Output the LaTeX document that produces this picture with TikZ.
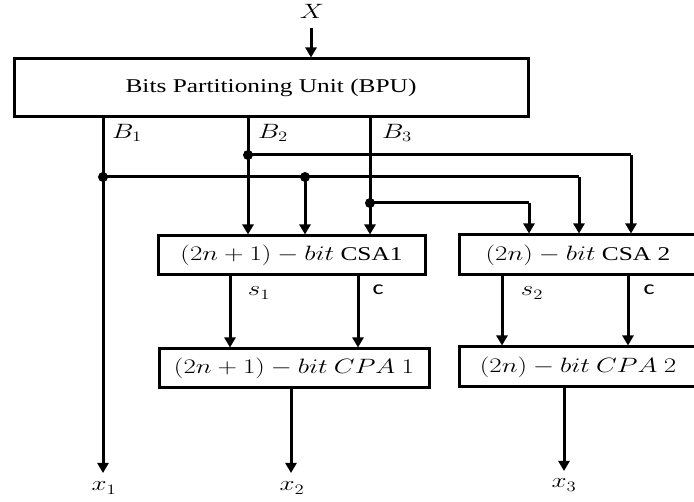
\documentclass[tikz,border=0pt]{standalone}
\usepackage{fontspec}
\setmainfont{Liberation Serif}
\newfontfamily\calib{Carlito}
\usetikzlibrary{arrows.meta}
\newcommand\hs[1]{\scalebox{1.3}[1]{#1}}
\begin{document}
\begin{tikzpicture}[x=1pt,y=-1pt,
  wire/.style={line width=3pt},
  arr/.style={wire,-{Triangle[width=11pt,length=10pt]}},
  box/.style={draw,line width=3pt,inner sep=0pt,font=\fontsize{19.5}{23}\selectfont},
  lab/.style={inner sep=0pt,font=\fontsize{20}{24}\selectfont},
  dot/.style={circle,fill,inner sep=0pt,minimum size=9pt}]
\useasboundingbox (0,0) rectangle (694,502);
\clip (0,0) rectangle (694,502);
% boxes
\node[box,minimum width=514pt,minimum height=58pt] (bpu) at (271,88) {\hs{Bits Partitioning Unit (BPU)}};
\node[box,minimum width=267pt,minimum height=39pt] (csa1) at (291.5,255.5) {\hs{$(2n+1)-bit$ CSA1}};
\node[box,minimum width=238pt,minimum height=40pt] (csa2) at (578,255) {\hs{$(2n)-bit$ CSA 2}};
\node[box,minimum width=270pt,minimum height=39pt] (cpa1) at (294,368.5) {\hs{$(2n+1)-bit\ CPA\ 1$}};
\node[box,minimum width=238pt,minimum height=40pt] (cpa2) at (578,367) {\hs{$(2n)-bit\ CPA\ 2$}};
% labels
\node[lab] (X) at (312,11) {\hs{$X$}};
\node[lab] (lb1) at (127,133) {\hs{$B_1$}};
\node[lab] (lb2) at (273,133) {\hs{$B_2$}};
\node[lab] (lb3) at (397,133) {\hs{$B_3$}};
\node[lab] (ls1) at (259,293) {\hs{$s_1$}};
\node[lab,font=\fontsize{20}{24}\selectfont] (lc1) at (378,290) {\hs{\calib c}};
\node[lab] (ls2) at (532,293) {\hs{$s_2$}};
\node[lab,font=\fontsize{20}{24}\selectfont] (lc2) at (649,290) {\hs{\calib c}};
\node[lab] (x1) at (104,488) {\hs{$x_1$}};
\node[lab] (x2) at (292,488) {\hs{$x_2$}};
\node[lab] (x3) at (564,485) {\hs{$x_3$}};
% junction coordinates
\coordinate (xin) at (311,28);
\coordinate (d1) at (103,177);
\coordinate (d1b) at (305,177);
\coordinate (d2) at (248,155);
\coordinate (d3) at (370,203);
\coordinate (e1) at (103,473);
\coordinate (e2) at (291,473);
\coordinate (e3) at (564,471);
% input
\draw[arr] (xin) -- (xin |- bpu.north);
% B1
\draw[arr] (d1 |- bpu.south) -- (e1);
\draw[wire] (d1) -- (579,177) coordinate (k1);
\draw[arr] (k1) -- (k1 |- csa2.north);
\draw[arr] (d1b) -- (d1b |- csa1.north);
% B2
\draw[arr] (d2 |- bpu.south) -- (d2 |- csa1.north);
\draw[wire] (d2) -- (631,155) coordinate (k2);
\draw[arr] (k2) -- (k2 |- csa2.north);
% B3
\draw[arr] (d3 |- bpu.south) -- (d3 |- csa1.north);
\draw[wire] (d3) -- (529,203) coordinate (k3);
\draw[arr] (k3) -- (k3 |- csa2.north);
% dots
\fill (d1) circle (5);
\fill (d1b) circle (5);
\fill (d2) circle (5);
\fill (d3) circle (5);
% CSA -> CPA
\draw[arr] (230,275 |- csa1.south) -- (230,0 |- cpa1.north);
\draw[arr] (358,275 |- csa1.south) -- (358,0 |- cpa1.north);
\draw[arr] (502,275 |- csa2.south) -- (502,0 |- cpa2.north);
\draw[arr] (628,275 |- csa2.south) -- (628,0 |- cpa2.north);
% outputs
\draw[arr] (e2 |- cpa1.south) -- (e2);
\draw[arr] (e3 |- cpa2.south) -- (e3);
\end{tikzpicture}
\end{document}
